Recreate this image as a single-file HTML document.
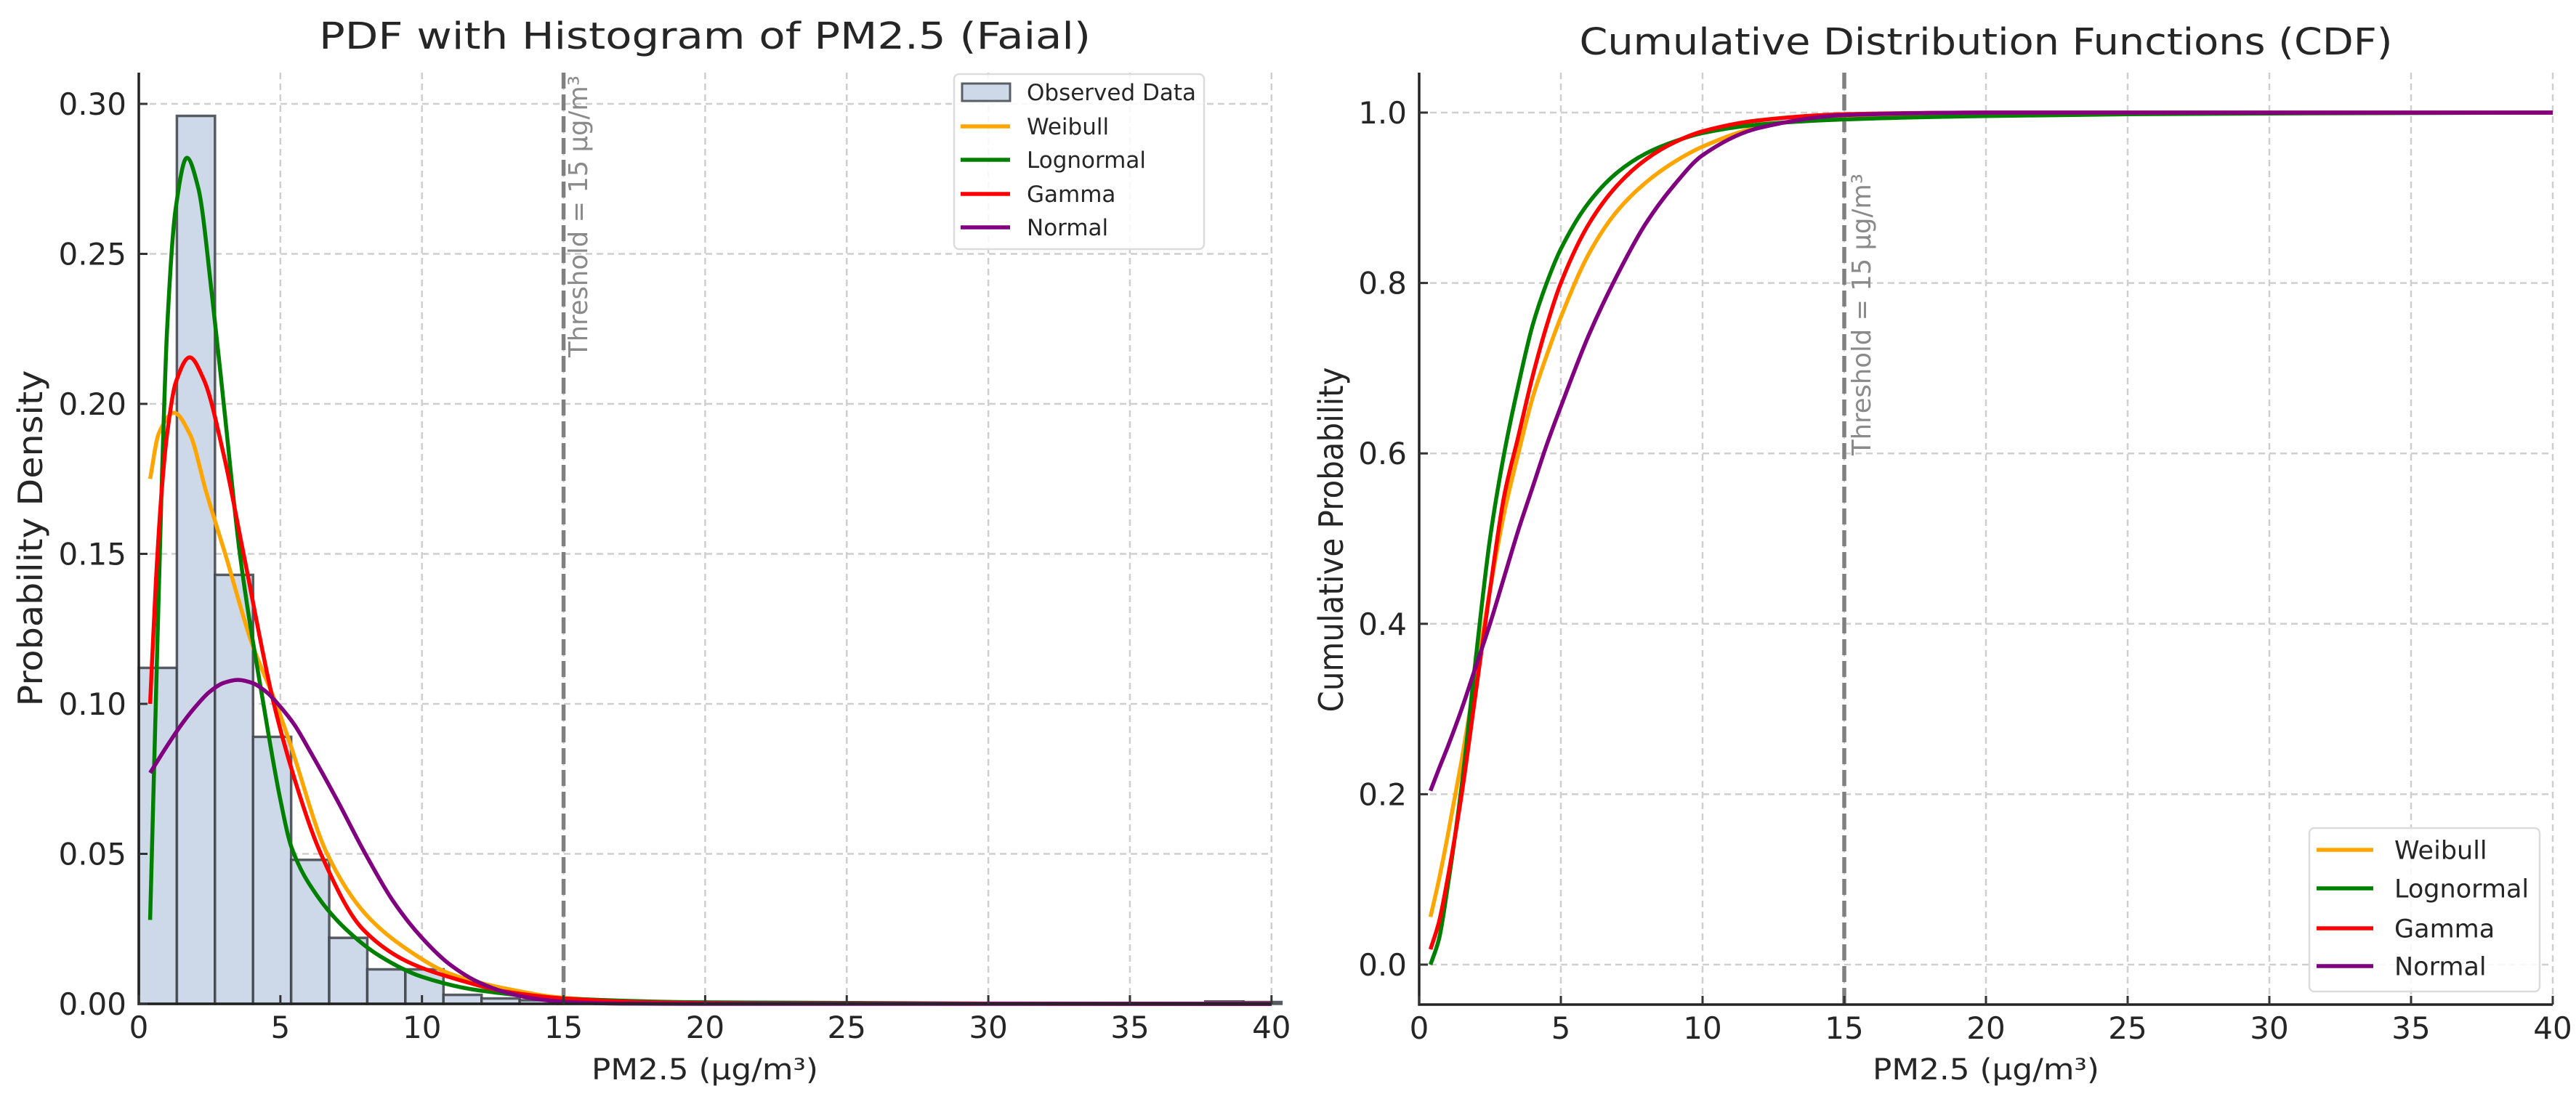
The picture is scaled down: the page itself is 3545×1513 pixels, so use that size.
<!DOCTYPE html>
<html><head><meta charset="utf-8">
<style>
html,body{margin:0;padding:0;background:#fff;}
svg{display:block;font-family:"DejaVu Sans","Liberation Sans",sans-serif;}
</style></head>
<body>
<svg id="fig" width="3545" height="1513" viewBox="0 0 3545 1513" xmlns="http://www.w3.org/2000/svg">
<rect width="3545" height="1513" fill="#fff"/>
<g id="pdf"></g>
<g id="cdf"></g>
</svg>
<script>
// ---------- data ----------
const binWidth = 1.345;
const histHeights = [0.112,0.296,0.143,0.089,0.048,0.022,0.0115,0.0115,0.003,0.0018,0.0012,0.0008,0.0006,0.0004,0.0003,0,0,0,0.0005,0,0,0,0,0,0,0,0,0,0.0008,0.0006];

const pdfWeibullX = [0.4,0.7,1.25,1.8,2.4,3.05,4.0,4.85,5.3,6.65,8,9.5,11,13,15,18,22,30,40];
const pdfWeibullY = [0.175,0.19,0.197,0.19,0.17,0.15,0.12,0.10,0.088,0.05,0.03,0.018,0.01,0.005,0.002,0.0007,0.0002,0.00003,0];
const pdfLognormX = [0.4,0.6,0.8,1.0,1.3,1.7,2.1,2.6,3.0,3.57,4.4,5.0,5.4,6.3,7.3,8.5,10,12,15,20,30,40];
const pdfLognormY = [0.028,0.10,0.17,0.225,0.265,0.282,0.272,0.235,0.20,0.15,0.10,0.068,0.052,0.036,0.025,0.016,0.009,0.0045,0.0018,0.0005,0.0001,0];
const pdfGammaX = [0.4,0.6,0.8,1.0,1.3,1.8,2.3,3.0,3.7,4.77,5.5,6.43,7.9,9.5,11.3,13,15,18,22,40];
const pdfGammaY = [0.10,0.14,0.17,0.19,0.207,0.2155,0.208,0.183,0.15,0.10,0.075,0.05,0.025,0.014,0.008,0.004,0.0018,0.0005,0.0001,0];
const pdfNormalX = [0.4,1,1.5,2,2.5,3,3.5,4,4.5,5,5.5,6,7,8,9,10,11,12,13,14,15,17,20,40];
const pdfNormalY = [0.077,0.086,0.093,0.099,0.104,0.107,0.108,0.107,0.104,0.099,0.093,0.085,0.068,0.050,0.034,0.022,0.013,0.0072,0.0037,0.0017,0.0007,0.0001,0,0];

const cdfX = [0.4,0.7,1,1.5,2,2.5,3,3.5,4,4.5,5,6,7,8,9,10,12,15,20,25,30,40];
const cdfWeibull = [0.056,0.10,0.15,0.24,0.34,0.44,0.53,0.60,0.665,0.715,0.76,0.835,0.885,0.918,0.942,0.96,0.983,0.996,1,1,1,1];
const cdfLognorm = [0.0,0.03,0.09,0.21,0.36,0.50,0.60,0.68,0.75,0.80,0.84,0.895,0.93,0.952,0.966,0.976,0.986,0.992,0.996,0.998,0.999,1];
const cdfGamma = [0.018,0.05,0.10,0.20,0.32,0.44,0.55,0.62,0.69,0.75,0.80,0.87,0.915,0.945,0.965,0.978,0.991,0.998,1,1,1,1];
const cdfNormal = [0.204,0.23,0.255,0.30,0.35,0.40,0.455,0.51,0.56,0.61,0.655,0.74,0.81,0.87,0.915,0.95,0.982,0.997,1,1,1,1];

const xTicks = [0,5,10,15,20,25,30,35,40];
const pdfYTicks = [0,0.05,0.10,0.15,0.20,0.25,0.30];
const pdfYLabels = ["0.00","0.05","0.10","0.15","0.20","0.25","0.30"];
const cdfYTicks = [0,0.2,0.4,0.6,0.8,1.0];
const cdfYLabels = ["0.0","0.2","0.4","0.6","0.8","1.0"];
const seriesNames = ["Weibull","Lognormal","Gamma","Normal"];
const threshold = 15;

// ---------- helpers ----------
const NS = "http://www.w3.org/2000/svg";
function mk(parent, tag, attrs){
  const e = document.createElementNS(NS, tag);
  for (const k in attrs) e.setAttribute(k, attrs[k]);
  parent.appendChild(e);
  return e;
}
const colors = {Weibull:"#ffa500",Lognormal:"#008000",Gamma:"#ff0000",Normal:"#800080"};

// monotone cubic (Fritsch-Carlson) in pixel space
function smoothPath(pts){
  const n = pts.length;
  const dx=[], m=[];
  for (let i=0;i<n-1;i++){ dx.push(pts[i+1][0]-pts[i][0]); m.push((pts[i+1][1]-pts[i][1])/dx[i]); }
  const t = new Array(n);
  t[0]=m[0]; t[n-1]=m[n-2];
  for (let i=1;i<n-1;i++){
    if (m[i-1]*m[i] <= 0) t[i]=0;
    else { const w1=2*dx[i]+dx[i-1], w2=dx[i]+2*dx[i-1]; t[i]=(w1+w2)/(w1/m[i-1]+w2/m[i]); }
  }
  let d = "M" + pts[0][0].toFixed(1) + "," + pts[0][1].toFixed(1);
  for (let i=0;i<n-1;i++){
    const h = dx[i]/3;
    d += " C"+(pts[i][0]+h).toFixed(1)+","+(pts[i][1]+t[i]*h).toFixed(1)+" "+
         (pts[i+1][0]-h).toFixed(1)+","+(pts[i+1][1]-t[i+1]*h).toFixed(1)+" "+
         pts[i+1][0].toFixed(1)+","+pts[i+1][1].toFixed(1);
  }
  return d;
}

function axes(g, cfg){
  const {x0,x1,yTop,yBot,xs,ys,yTicks} = cfg;
  xTicks.forEach(t=>{
    const l = mk(g,"line",{x1:xs(t),x2:xs(t),y1:yTop,y2:yBot,stroke:"#cfcfcf","stroke-width":2.5,"stroke-dasharray":"9,6"});
    
    
  });
  yTicks.forEach(t=>{
    const l = mk(g,"line",{x1:x0,x2:x1,y1:ys(t),y2:ys(t),stroke:"#cfcfcf","stroke-width":2.5,"stroke-dasharray":"9,6"});
    
    
  });
}
function spines(g,cfg){
  const {x0,x1,yTop,yBot,xs,ys,yTicks,yLabels} = cfg;
  const sl = mk(g,"line",{x1:x0,x2:x0,y1:yTop,y2:yBot+1.5,stroke:"#222","stroke-width":3.5});
  
  
  const sb = mk(g,"line",{x1:x0-1.5,x2:x1,y1:yBot,y2:yBot,stroke:"#222","stroke-width":3.5});
  
  
  xTicks.forEach(t=>{
    const tk = mk(g,"line",{x1:xs(t),x2:xs(t),y1:yBot,y2:yBot-12,stroke:"#333","stroke-width":3});
    
    
    const tl = mk(g,"text",{x:xs(t),y:yBot+47,"text-anchor":"middle","font-size":42,fill:"#262626"});
    tl.textContent = String(t);
    
    
  });
  yTicks.forEach((t,i)=>{
    const tk = mk(g,"line",{x1:x0,x2:x0+12,y1:ys(t),y2:ys(t),stroke:"#333","stroke-width":3});
    
    
    const tl = mk(g,"text",{x:x0-17,y:ys(t)+15,"text-anchor":"end","font-size":42,fill:"#262626"});
    tl.textContent = yLabels[i];
    
    
  });
}
function curve(g, xsArr, ysArr, xs, ys, name){
  const pts = xsArr.map((v,i)=>[xs(v), ys(ysArr[i])]);
  const p = mk(g,"path",{d:smoothPath(pts),fill:"none",stroke:colors[name],"stroke-width":5.5,"stroke-linejoin":"round","stroke-linecap":"butt"});
  
  
}
function thresholdLine(g,cfg,textBottom,baselineX){
  const {yTop,yBot,xs} = cfg;
  const l = mk(g,"line",{x1:xs(threshold),x2:xs(threshold),y1:yTop,y2:yBot,stroke:"#808080","stroke-width":5.5,"stroke-dasharray":"22,8"});
  
  
  const t = mk(g,"text",{x:baselineX,y:textBottom,transform:"rotate(-90 "+baselineX+" "+textBottom+")","font-size":36,fill:"#8a8a8a",textLength:388,lengthAdjust:"spacingAndGlyphs"});
  t.textContent = "Threshold = 15 μg/m³";
  
  
}
function legend(g, box, entries, fontSize, rowY, lineX0, lineX1, textX){
  const b = mk(g,"rect",{x:box[0],y:box[1],width:box[2],height:box[3],rx:7,fill:"#fff","fill-opacity":0.85,stroke:"#dcdcdc","stroke-width":2.5});
  
  
  entries.forEach((name,i)=>{
    const y = rowY[i];
    if (name === "Observed Data"){
      const r = mk(g,"rect",{x:lineX0+2,y:y-12,width:lineX1-lineX0-2,height:24,fill:"#cdd9e8",stroke:"#5a5f66","stroke-width":3});
      
      
    } else {
      const l = mk(g,"line",{x1:lineX0,x2:lineX1,y1:y,y2:y,stroke:colors[name],"stroke-width":5.5});
      
      
    }
    const t = mk(g,"text",{x:textX,y:y+fontSize*0.36,"font-size":fontSize,fill:"#262626"});
    t.textContent = name;
    
    
  });
}
function label(g, txt, x, y, size, rot, len, name){
  const attrs = {x:x,y:y,"text-anchor":"middle","font-size":size,fill:"#262626"};
  if (rot) attrs.transform = "rotate(-90 "+x+" "+y+")";
  if (len){ attrs.textLength = len; attrs.lengthAdjust = "spacingAndGlyphs"; }
  const t = mk(g,"text",attrs);
  t.textContent = txt;
  
  
}

// ---------- PDF panel ----------
(function(){
  const g = document.getElementById("pdf");
  const cfg = {x0:191,x1:1750,yTop:100,yBot:1382,
    xs:v=>191+v*38.97, ys:v=>1382-v*4130, yTicks:pdfYTicks, yLabels:pdfYLabels};
  axes(g,cfg);
  histHeights.forEach((h,i)=>{
    if (h<=0) return;
    const xa = cfg.xs(i*binWidth), xb = cfg.xs((i+1)*binWidth);
    const r = mk(g,"rect",{x:xa,y:cfg.ys(h),width:xb-xa,height:cfg.yBot-cfg.ys(h),fill:"#cdd9e8",stroke:"#3d4248","stroke-opacity":0.85,"stroke-width":3.5});
    
    
  });
  thresholdLine(g,cfg,492,808);
  curve(g,pdfWeibullX,pdfWeibullY,cfg.xs,cfg.ys,"Weibull");
  curve(g,pdfLognormX,pdfLognormY,cfg.xs,cfg.ys,"Lognormal");
  curve(g,pdfGammaX,pdfGammaY,cfg.xs,cfg.ys,"Gamma");
  curve(g,pdfNormalX,pdfNormalY,cfg.xs,cfg.ys,"Normal");
  spines(g,cfg);
  legend(g,[1313,102,344,241],["Observed Data"].concat(seriesNames),31,[127,174,220,267,313],1322,1390,1413);
  label(g,"PDF with Histogram of PM2.5 (Faial)",970,67,51,false,1062,"pdf-chart-title");
  label(g,"Probability Density",58,741,46,true,463,"y-axis-title");
  label(g,"PM2.5 (μg/m³)",970,1486,40,false,312,"x-axis-title");
})();

// ---------- CDF panel ----------
(function(){
  const g = document.getElementById("cdf");
  const cfg = {x0:1953,x1:3513,yTop:100,yBot:1383,
    xs:v=>1953+v*39.0, ys:v=>1328-v*1173, yTicks:cdfYTicks, yLabels:cdfYLabels};
  axes(g,cfg);
  thresholdLine(g,cfg,627,2574);
  curve(g,cdfX,cdfWeibull,cfg.xs,cfg.ys,"Weibull");
  curve(g,cdfX,cdfLognorm,cfg.xs,cfg.ys,"Lognormal");
  curve(g,cdfX,cdfGamma,cfg.xs,cfg.ys,"Gamma");
  curve(g,cdfX,cdfNormal,cfg.xs,cfg.ys,"Normal");
  spines(g,cfg);
  legend(g,[3178,1140,317,225],seriesNames,35,[1170,1223,1278,1330],3188,3266,3295);
  label(g,"Cumulative Distribution Functions (CDF)",2733,75,51,false,1119,"cdf-chart-title");
  label(g,"Cumulative Probability",1848,743,46,true,475,"cdf-y-axis-title");
  label(g,"PM2.5 (μg/m³)",2733,1486,40,false,312,"cdf-x-axis-title");
})();
</script>
</body></html>
